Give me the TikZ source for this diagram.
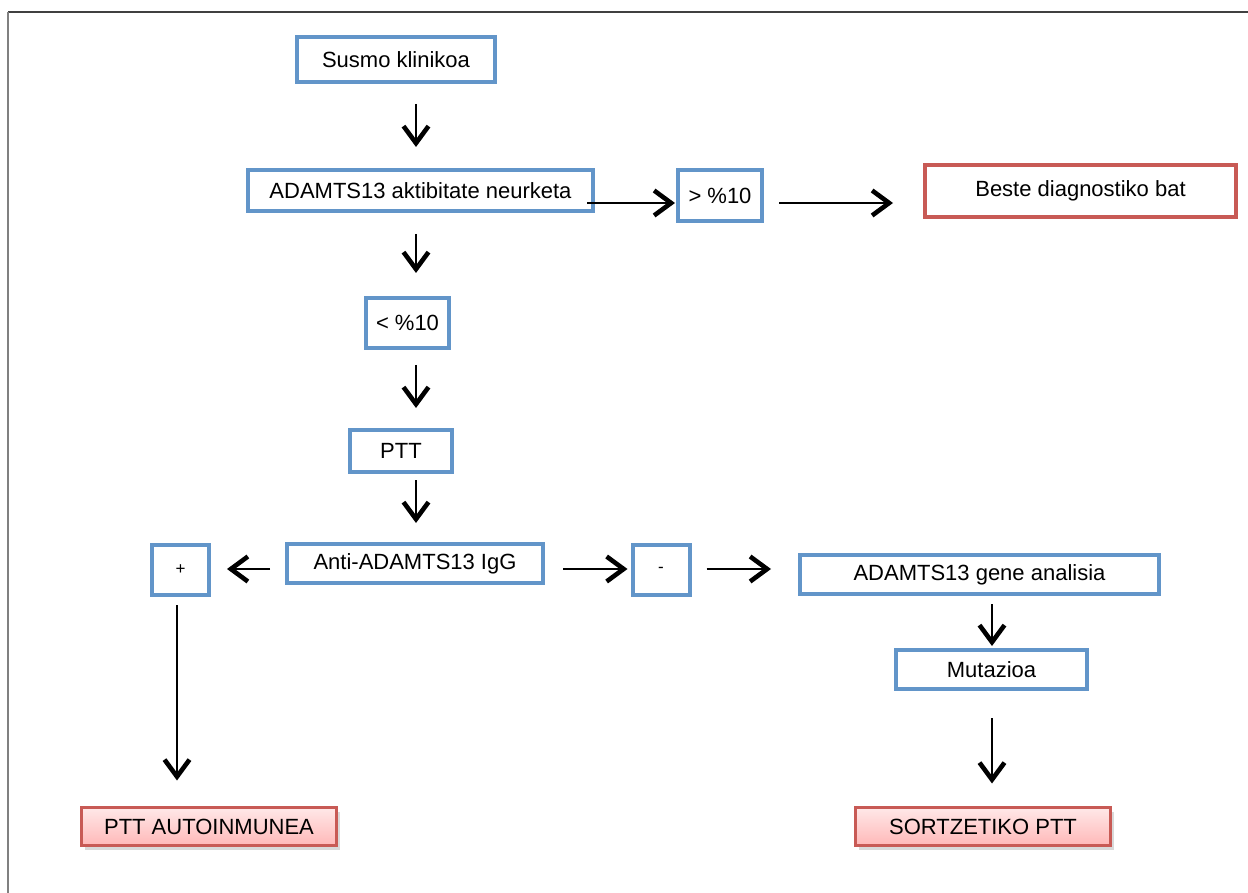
\documentclass[tikz,border=0pt]{standalone}
\usepackage{fontspec}
\setmainfont{Liberation Sans}
\usetikzlibrary{arrows.meta,shadows}

\definecolor{boxblue}{RGB}{98,149,201}
\definecolor{boxred}{RGB}{200,90,85}
\definecolor{pinktop}{RGB}{255,232,232}
\definecolor{pinkbot}{RGB}{255,184,184}

\begin{document}
\begin{tikzpicture}[x=0.5pt,y=-0.5pt,
  font=\fontsize{11}{13}\selectfont,
  every node/.style={inner sep=0pt,align=center},
  bluebox/.style={draw=boxblue,line width=2pt,fill=white},
  redbox/.style={draw=boxred,line width=2pt,fill=white},
  resultbox/.style={draw=boxred,line width=1.5pt,top color=pinktop,bottom color=pinkbot,
    drop shadow={shadow xshift=1.5pt,shadow yshift=-2pt,opacity=0.3}},
  signbox/.style={bluebox,minimum width=28.5pt,minimum height=25pt,font=\fontsize{8.5}{10}\selectfont},
  arr/.style={-{Straight Barb[length=8.5pt,width=12.5pt,line width=2.3pt]},line width=1.1pt}]
\useasboundingbox (0,0) rectangle (1248,893);

% frame
\draw[black!75,line width=0.8pt] (1248,12) -- (8,12);
\draw[black!50,line width=0.9pt] (8,12) -- (8,893);

% axes for the connectors
\coordinate (colA) at (416,0);
\coordinate (colB) at (992,0);
\coordinate (colC) at (177,0);
\coordinate (rowA) at (0,203);
\coordinate (rowB) at (0,569);

\node[bluebox,minimum width=99pt,minimum height=22.5pt] (susmo) at (396,59.5) {Susmo klinikoa};
\node[bluebox,minimum width=172.5pt,minimum height=20.5pt] (aktib) at (420.5,190.5) {ADAMTS13 aktibitate neurketa};
\node[bluebox,minimum width=42pt,minimum height=25.5pt] (gt) at (720,195.5) {> \%10};
\node[redbox,minimum width=155.5pt,minimum height=26pt] (beste) at (1080.5,191) {Beste diagnostiko bat};
\node[bluebox,minimum width=41.5pt,minimum height=25pt] (lt) at (407.5,323) {< \%10};
\node[bluebox,minimum width=51pt,minimum height=21pt] (ptt) at (401,451) {PTT};
\node[bluebox,minimum width=128pt,minimum height=19.5pt] (anti) at (415,563.5) {Anti-ADAMTS13 IgG};
\node[signbox] (plus) at (180.5,570) {+};
\node[signbox] (minus) at (661,570) {-};
\node[bluebox,minimum width=179.5pt,minimum height=19.5pt] (gene) at (979.5,574.5) {ADAMTS13 gene analisia};
\node[bluebox,minimum width=95.5pt,minimum height=19.5pt] (muta) at (991.5,669.5) {Mutazioa};
\node[resultbox,minimum width=127.5pt,minimum height=19pt] (auto) at (209,826.5) {PTT AUTOINMUNEA};
\node[resultbox,minimum width=127.5pt,minimum height=19pt] (sort) at (983,826.5) {SORTZETIKO PTT};

\draw[arr,shorten <=10pt,shorten >=10.5pt] (susmo.south -| colA) -- (aktib.north -| colA);
\draw[arr,shorten <=10.5pt,shorten >=11.5pt] (aktib.south -| colA) -- (lt.north -| colA);
\draw[arr,shorten <=7.5pt,shorten >=10pt] (lt.south -| colA) -- (ptt.north -| colA);
\draw[arr,shorten <=3pt,shorten >=9.5pt] (ptt.south -| colA) -- (anti.north -| colA);
\draw[arr,shorten <=-4pt,shorten >=0.5pt] (aktib.east |- rowA) -- (gt.west |- rowA);
\draw[arr,shorten <=7.5pt,shorten >=15pt] (gt.east |- rowA) -- (beste.west |- rowA);
\draw[arr,shorten <=7.5pt,shorten >=8pt] (anti.west |- rowB) -- (plus.east |- rowB);
\draw[arr,shorten <=9pt,shorten >=1.5pt] (anti.east |- rowB) -- (minus.west |- rowB);
\draw[arr,shorten <=7.5pt,shorten >=13.5pt] (minus.east |- rowB) -- (gene.west |- rowB);
\draw[arr,shorten <=4pt,shorten >=1pt] (gene.south -| colB) -- (muta.north -| colB);
\draw[arr,shorten <=4pt,shorten >=12.75pt] (plus.south -| colC) -- (auto.north -| colC);
\draw[arr,shorten <=13.5pt,shorten >=11.25pt] (muta.south -| colB) -- (sort.north -| colB);
\end{tikzpicture}
\end{document}
